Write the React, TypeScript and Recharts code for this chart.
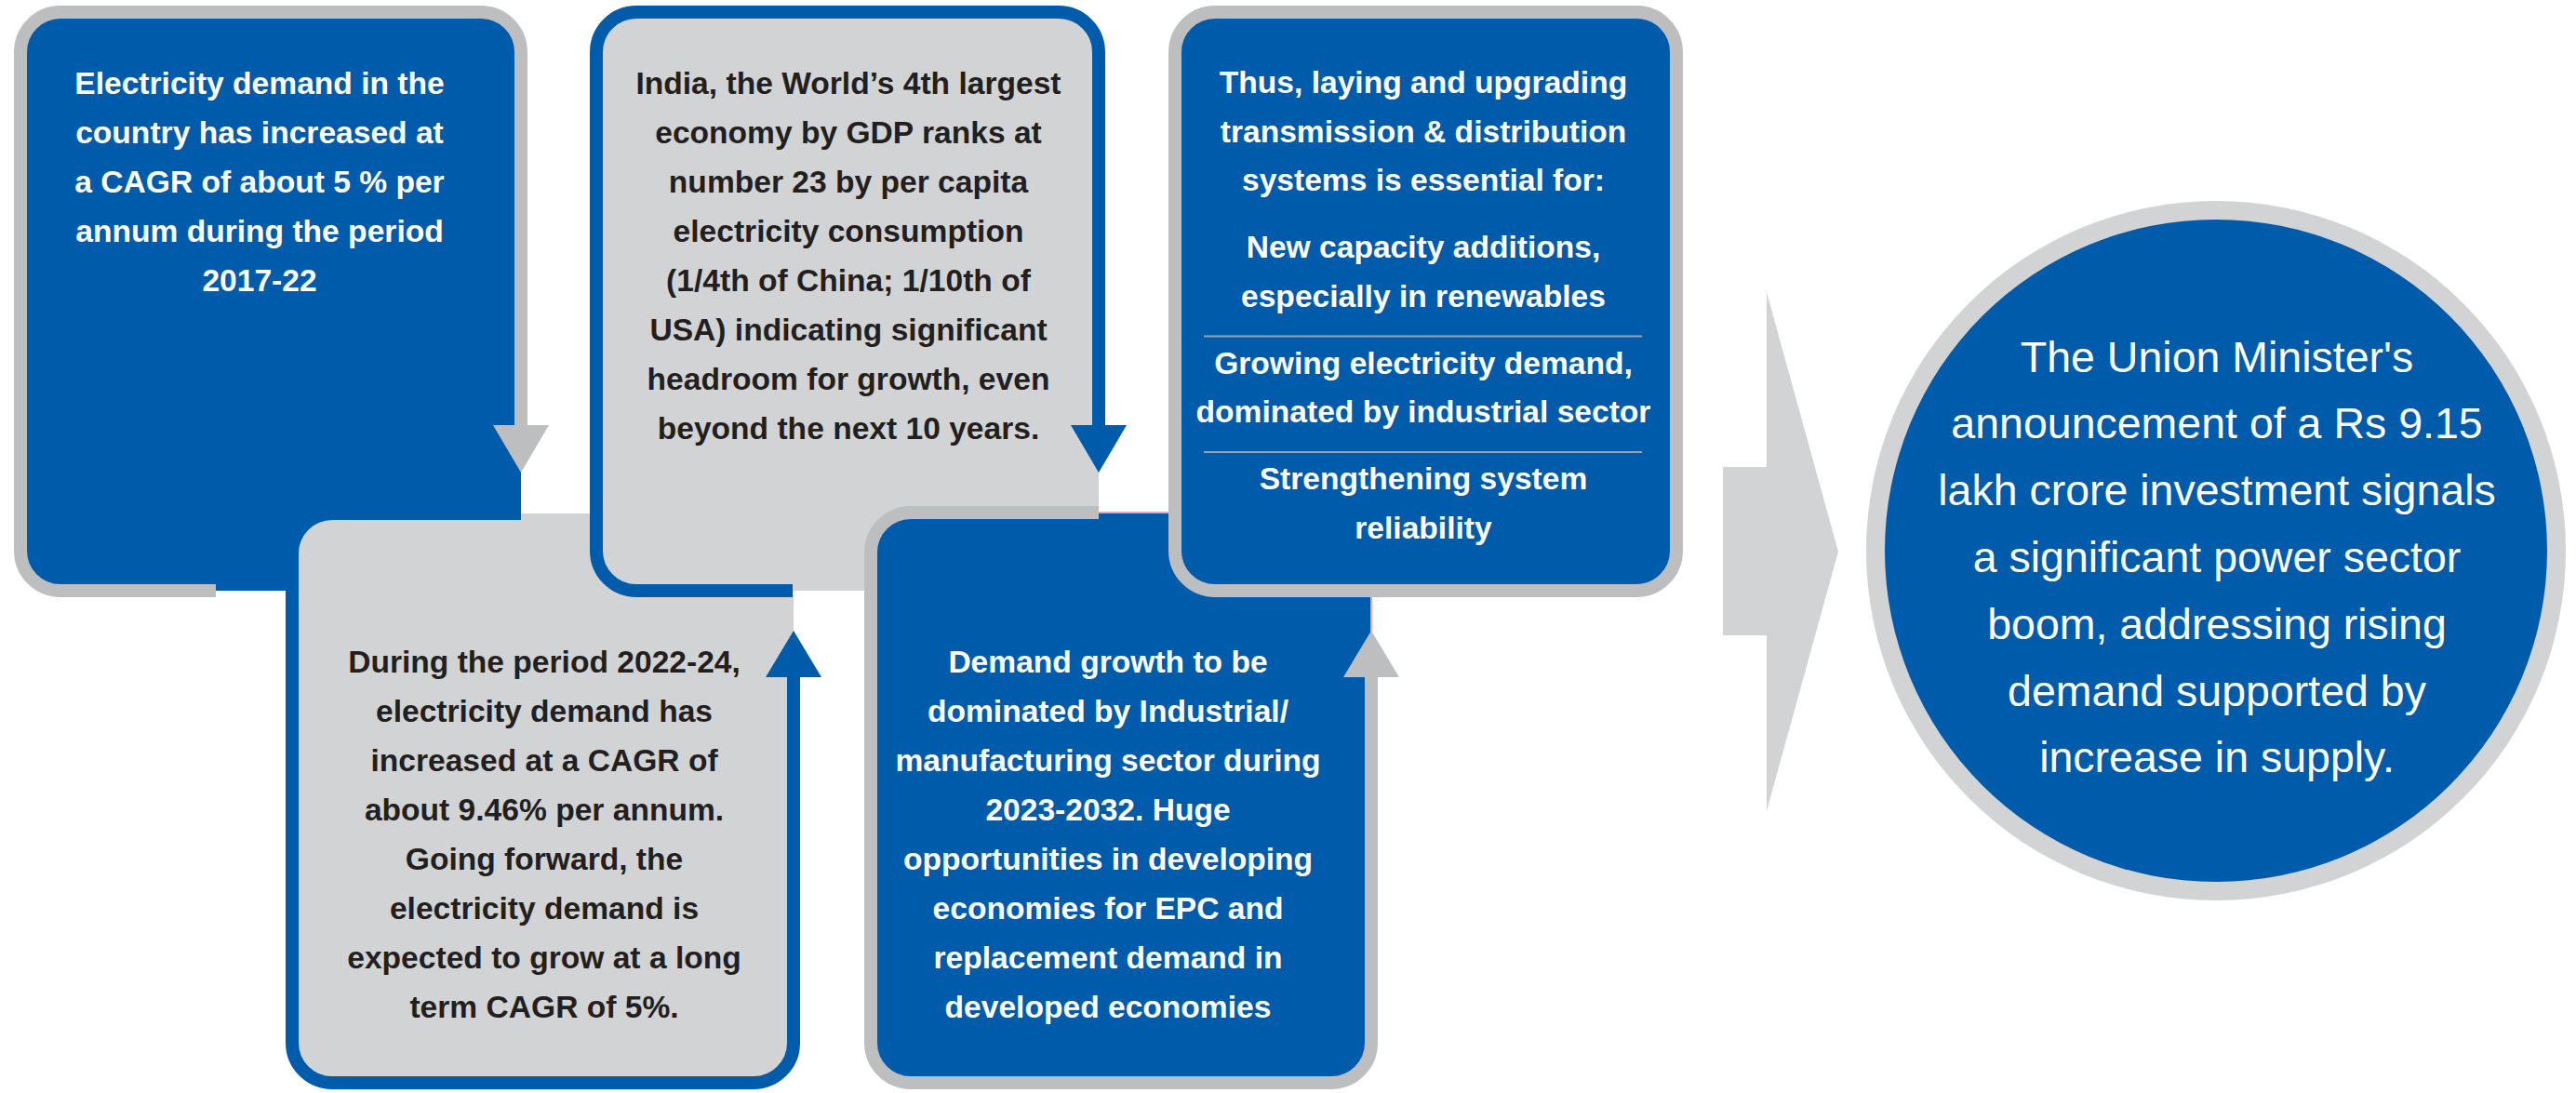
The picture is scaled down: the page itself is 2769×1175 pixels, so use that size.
import React from 'react'
import { ScatterChart, Scatter, XAxis, YAxis } from 'recharts'

const W = 2769
const H = 1175

const BLUE = '#005BAA'
const GREY_FILL = '#D1D3D4'
const GREY_LINE = '#BCBEC0'
const INK = '#231F20'
const PINK = '#E7A3C6'
const FONT = '"Liberation Sans", Arial, sans-serif'

// text of each step, in reading order
const stepOneLines = [
  'Electricity demand in the',
  'country has increased at',
  'a CAGR of about 5 % per',
  'annum during the period',
  '2017-22',
]
const stepTwoLines = [
  'During the period 2022-24,',
  'electricity demand has',
  'increased at a CAGR of',
  'about 9.46% per annum.',
  'Going forward, the',
  'electricity demand is',
  'expected to grow at a long',
  'term CAGR of 5%.',
]
const stepThreeLines = [
  'India, the World\u2019s 4th largest',
  'economy by GDP ranks at',
  'number 23 by per capita',
  'electricity consumption',
  '(1/4th of China; 1/10th of',
  'USA) indicating significant',
  'headroom for growth, even',
  'beyond the next 10 years.',
]
const stepFourLines = [
  'Demand growth to be',
  'dominated by Industrial/',
  'manufacturing sector during',
  '2023-2032. Huge',
  'opportunities in developing',
  'economies for EPC and',
  'replacement demand in',
  'developed economies',
]
const stepFiveIntro = [
  'Thus, laying and upgrading',
  'transmission & distribution',
  'systems is essential for:',
]
const stepFiveNeeds = [
  ['New capacity additions,', 'especially in renewables'],
  ['Growing electricity demand,', 'dominated by industrial sector'],
  ['Strengthening system', 'reliability'],
]
const summaryLines = [
  "The Union Minister's",
  'announcement of a Rs 9.15',
  'lakh crore investment signals',
  'a significant power sector',
  'boom, addressing rising',
  'demand supported by',
  'increase in supply.',
]

// layout: border centre-lines of the five boxes (pixels)
const panelLayout = [
  { rect: [22, 13, 560, 635], tone: 'blue', open: 'bottom', cut: 232, arrowY: 457, textX: 279, textY: 89 },
  { rect: [314, 552, 853, 1164], tone: 'grey', open: 'top', cut: 560, arrowY: 728, textX: 585, textY: 711 },
  { rect: [641, 13, 1181, 635], tone: 'grey', open: 'bottom', cut: 852, arrowY: 457, textX: 912, textY: 89 },
  { rect: [936, 551, 1474, 1164], tone: 'blue', open: 'top', cut: 1181, arrowY: 728, textX: 1191, textY: 711 },
  { rect: [1263, 13, 1802, 635], tone: 'blue', open: 'none', cut: 0, arrowY: 0, textX: 1530, textY: 88 },
]
const panelTexts = [stepOneLines, stepTwoLines, stepThreeLines, stepFourLines]

const BORDER = 14
const R = 43
const LINE = 53
const FS = 33.6

const roundedRect = (x0: number, y0: number, x1: number, y1: number, r: number) =>
  `M${x0 + r},${y0} H${x1 - r} A${r},${r} 0 0 1 ${x1},${y0 + r} V${y1 - r} A${r},${r} 0 0 1 ${x1 - r},${y1} H${x0 + r} A${r},${r} 0 0 1 ${x0},${y1 - r} V${y0 + r} A${r},${r} 0 0 1 ${x0 + r},${y0} Z`

// border that starts on the bottom edge and ends on the right edge
const openFromBottom = (x0: number, y0: number, x1: number, y1: number, r: number, xs: number, ye: number) =>
  `M${xs},${y1} H${x0 + r} A${r},${r} 0 0 1 ${x0},${y1 - r} V${y0 + r} A${r},${r} 0 0 1 ${x0 + r},${y0} H${x1 - r} A${r},${r} 0 0 1 ${x1},${y0 + r} V${ye}`

// border that starts on the top edge and ends on the right edge
const openFromTop = (x0: number, y0: number, x1: number, y1: number, r: number, xs: number, ye: number) =>
  `M${xs},${y0} H${x0 + r} A${r},${r} 0 0 0 ${x0},${y0 + r} V${y1 - r} A${r},${r} 0 0 0 ${x0 + r},${y1} H${x1 - r} A${r},${r} 0 0 0 ${x1},${y1 - r} V${ye}`

const chartData = [
  ...panelLayout.map((p, i) => ({
    kind: 'panel',
    index: i,
    x: (p.rect[0] + p.rect[2]) / 2,
    y: (p.rect[1] + p.rect[3]) / 2,
  })),
  { kind: 'pointer', index: 0, x: 1914, y: 593 },
  { kind: 'summary', index: 0, x: 2382, y: 592 },
]

function textLine(key: string, x: number, yCentre: number, str: string, color: string, size = FS, weight = 700) {
  return (
    <text
      key={key}
      x={x}
      y={yCentre + size * 0.358}
      textAnchor="middle"
      fontFamily={FONT}
      fontWeight={weight}
      fontSize={size}
      fill={color}
    >
      {str}
    </text>
  )
}

function drawPanel(i: number) {
  const p = panelLayout[i]
  const [x0, y0, x1, y1] = p.rect
  const fill = p.tone === 'blue' ? BLUE : GREY_FILL
  const line = p.tone === 'blue' ? GREY_LINE : BLUE
  const ink = p.tone === 'blue' ? '#FFFFFF' : INK
  const parts: React.ReactNode[] = []

  parts.push(<path key="fill" d={roundedRect(x0, y0, x1, y1, R)} fill={fill} />)

  if (p.open === 'none') {
    parts.push(
      <path key="border" d={roundedRect(x0, y0, x1, y1, R)} fill="none" stroke={line} strokeWidth={BORDER} />
    )
  } else if (p.open === 'bottom') {
    // fill runs on past the broken corner towards the next box
    parts.push(<rect key="ext" x={p.cut} y={p.arrowY} width={x1 - p.cut} height={y1 - 1 - p.arrowY} fill={fill} />)
    parts.push(
      <path key="border" d={openFromBottom(x0, y0, x1, y1, R, p.cut, p.arrowY)} fill="none" stroke={line} strokeWidth={BORDER} />
    )
  } else {
    parts.push(<rect key="ext" x={p.cut} y={y0} width={x1 - p.cut} height={p.arrowY - y0} fill={fill} />)
    if (p.tone === 'blue') {
      parts.push(
        <polyline
          key="edge"
          points={`${p.cut},${y0} ${x1},${y0} ${x1},${p.arrowY}`}
          fill="none"
          stroke={PINK}
          strokeWidth={2}
        />
      )
    }
    parts.push(
      <path key="border" d={openFromTop(x0, y0, x1, y1, R, p.cut, p.arrowY)} fill="none" stroke={line} strokeWidth={BORDER} />
    )
  }

  if (p.open === 'bottom') {
    parts.push(
      <polygon key="arrow" points={`${x1 - 30},${p.arrowY} ${x1 + 30},${p.arrowY} ${x1},${p.arrowY + 51}`} fill={line} />
    )
  } else if (p.open === 'top') {
    parts.push(
      <polygon key="arrow" points={`${x1 - 30},${p.arrowY} ${x1 + 30},${p.arrowY} ${x1},${p.arrowY - 50}`} fill={line} />
    )
  }

  if (i < panelTexts.length) {
    panelTexts[i].forEach((s, k) => parts.push(textLine(`t${k}`, p.textX, p.textY + k * LINE, s, ink)))
  } else {
    let y = p.textY
    stepFiveIntro.forEach((s, k) => {
      parts.push(textLine(`i${k}`, p.textX, y, s, ink))
      if (k < stepFiveIntro.length - 1) y += LINE - 0.5
    })
    stepFiveNeeds.forEach((group, g) => {
      y += 72
      if (g > 0) {
        parts.push(
          <line key={`sep${g}`} x1={1294} x2={1765} y1={y - 28} y2={y - 28} stroke="#9AA2AC" strokeWidth={2} />
        )
      }
      group.forEach((s, k) => {
        parts.push(textLine(`n${g}${k}`, p.textX, y, s, ink))
        if (k < group.length - 1) y += LINE - 0.5
      })
    })
  }
  return parts
}

function renderItem(props: any) {
  const { cx, cy, payload } = props
  const dx = cx - payload.x
  const dy = cy - payload.y
  let body: React.ReactNode = null
  if (payload.kind === 'panel') {
    body = drawPanel(payload.index)
  } else if (payload.kind === 'pointer') {
    const x = payload.x
    const y = payload.y
    body = (
      <polygon
        points={`${x - 62},${y - 91} ${x - 15},${y - 91} ${x - 15},${y - 279} ${x + 62},${y} ${x - 15},${y + 279} ${x - 15},${y + 90} ${x - 62},${y + 90}`}
        fill={GREY_FILL}
      />
    )
  } else {
    const x = payload.x
    const y = payload.y
    body = (
      <g>
        <circle cx={x} cy={y} r={376} fill={GREY_FILL} />
        <circle cx={x} cy={y} r={356} fill={BLUE} />
        {summaryLines.map((s, k) => textLine(`s${k}`, x + 1, 383 + k * 71.8, s, '#FFFFFF', 46.5, 400))}
      </g>
    )
  }
  return <g transform={`translate(${dx},${dy})`}>{body}</g>
}

export default function App() {
  return (
    <div style={{ position: 'absolute', left: 0, top: 0, width: W, height: H, background: '#FFFFFF' }}>
      <ScatterChart width={W} height={H} margin={{ top: 0, right: 0, bottom: 0, left: 0 }}>
        <XAxis type="number" dataKey="x" domain={[0, W]} hide allowDataOverflow />
        <YAxis type="number" dataKey="y" domain={[0, H]} reversed hide allowDataOverflow />
        <Scatter data={chartData} shape={renderItem} isAnimationActive={false} />
      </ScatterChart>
    </div>
  )
}
